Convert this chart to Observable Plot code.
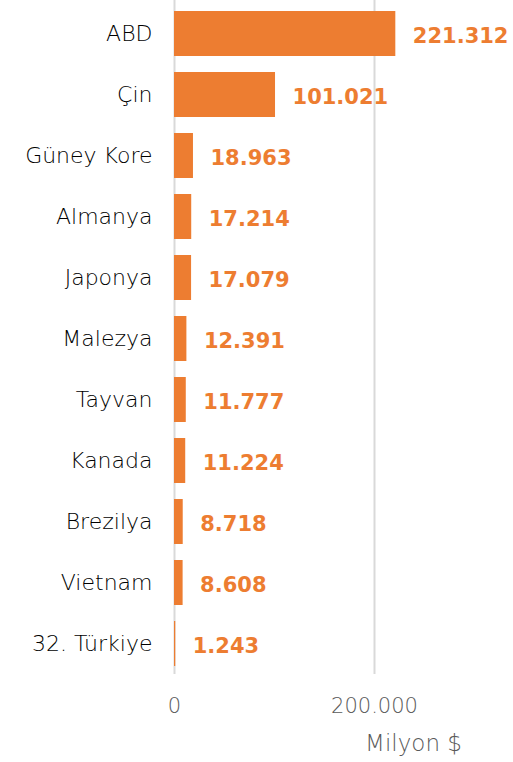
<!DOCTYPE html>
<html>
<head>
<meta charset="utf-8">
<script src="https://cdn.jsdelivr.net/npm/d3@7"></script>
<script src="https://cdn.jsdelivr.net/npm/@observablehq/plot@0.6"></script>
<style>
  html, body { margin: 0; padding: 0; background: #fff; }
  #chart svg { display: block; }
</style>
</head>
<body>
<div id="chart"></div>
<script>
const countries = ["ABD", "Çin", "Güney Kore", "Almanya", "Japonya", "Malezya", "Tayvan", "Kanada", "Brezilya", "Vietnam", "32. Türkiye"];
const values = [221312, 101021, 18963, 17214, 17079, 12391, 11777, 11224, 8718, 8608, 1243];
const xTicks = [0, 200000];
const unitLabel = "Milyon $";

const data = countries.map((c, i) => ({country: c, value: values[i]}));
const loc = d3.formatLocale({decimal: ",", thousands: ".", grouping: [3], currency: ["", ""]});
const fmt = loc.format(",d");
const orange = "#ED7D31";
const font = "'DejaVu Sans', sans-serif";

const chart = Plot.plot({
  width: 513,
  height: 762,
  marginLeft: 174,
  marginRight: 0,
  marginTop: 2,
  marginBottom: 88,
  style: {fontFamily: font, background: "#fff"},
  x: {domain: [0, 339000], axis: null},
  y: {domain: countries, paddingInner: 0.27, paddingOuter: 0.13, axis: null},
  marks: [
    Plot.ruleX(xTicks, {stroke: "#d9d9d9", strokeWidth: 2, insetTop: -2}),
    Plot.barX(data, {x: "value", y: "country", fill: orange}),
    Plot.text(data, {x: "value", y: "country", text: d => fmt(d.value), dx: 17, dy: 2, textAnchor: "start", fill: orange, fontWeight: "bold", fontSize: 21}),
    Plot.axisY({tickSize: 0, tickPadding: 22, fontSize: 22, color: "#000", label: null, fontWeight: 300}),
    Plot.axisX({ticks: xTicks, tickFormat: fmt, tickSize: 0, tickPadding: 24, fontSize: 21, color: "#595959", label: null, fontWeight: 300}),
    Plot.text([unitLabel], {x: 239000, frameAnchor: "bottom", dy: 76, fontSize: 23, fill: "#595959", fontWeight: 300})
  ]
});
document.getElementById("chart").appendChild(chart);
</script>
</body>
</html>
